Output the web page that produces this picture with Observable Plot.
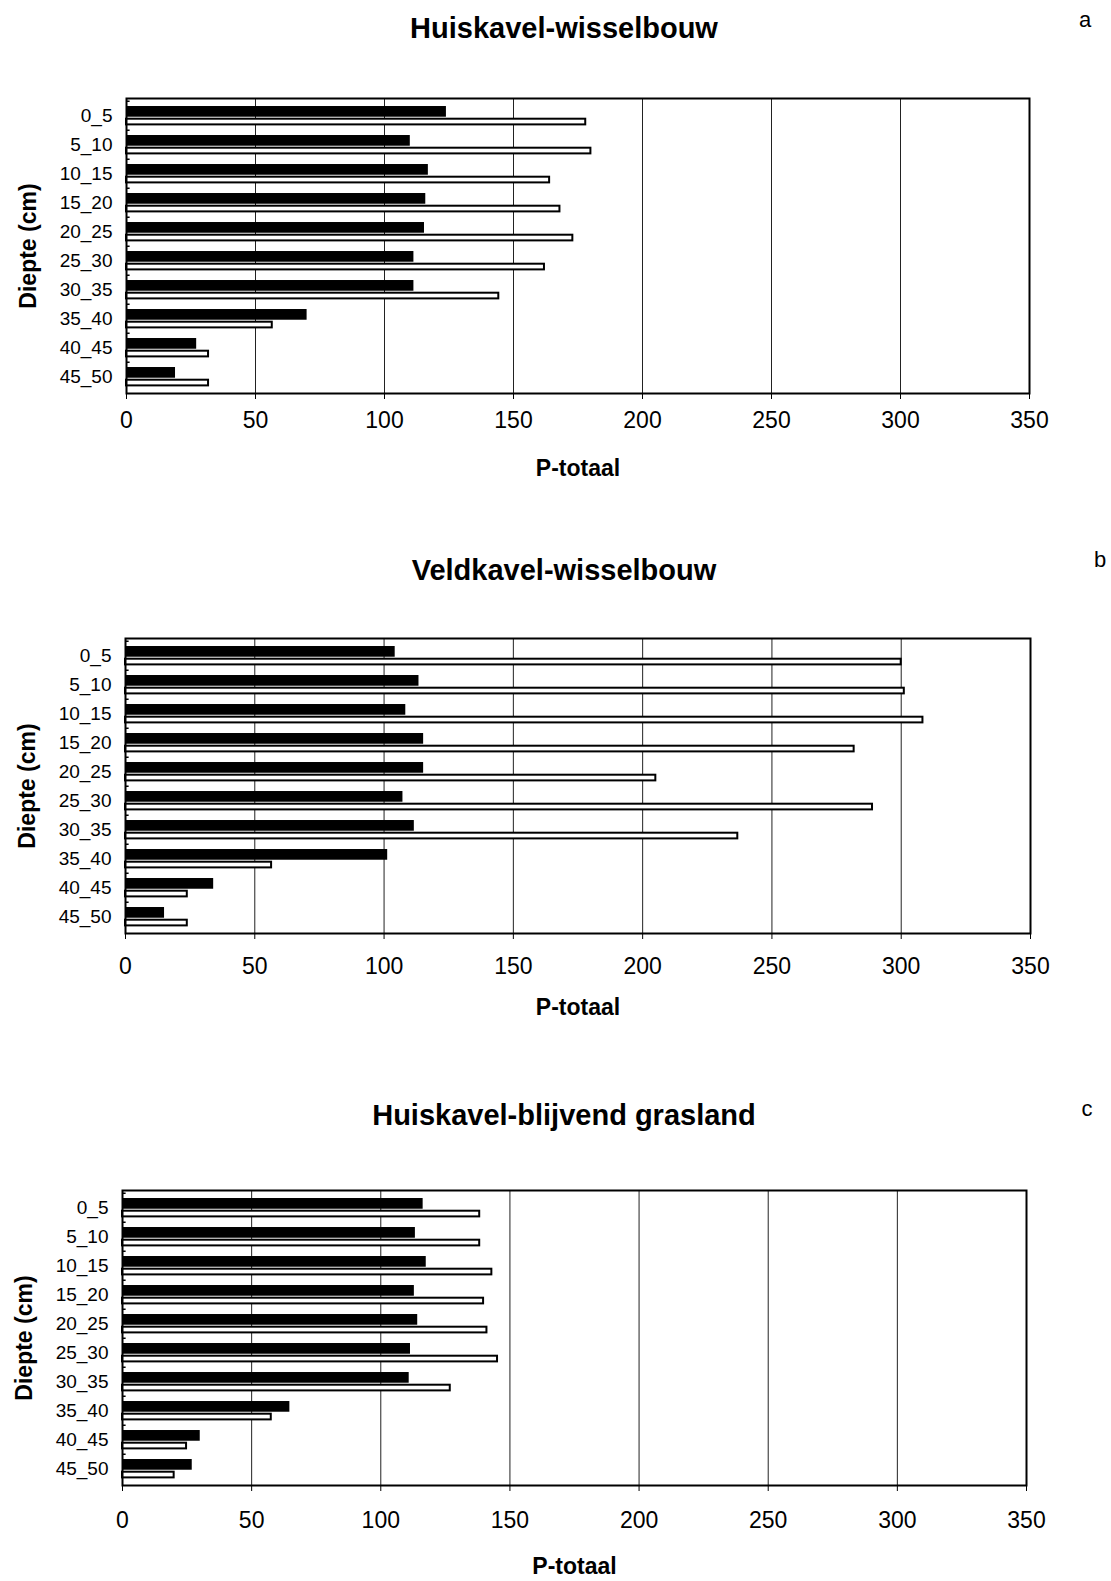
<!DOCTYPE html>
<html>
<head>
<meta charset="utf-8">
<script src="https://cdn.jsdelivr.net/npm/d3@7"></script>
<script src="https://cdn.jsdelivr.net/npm/@observablehq/plot@0.6"></script>
<style>
  body { margin: 0; background: #fff; }
  #page { position: relative; width: 1111px; height: 1581px; font-family: "Liberation Sans", Arial, sans-serif; color: #000; }
  .title { position: absolute; font-weight: bold; font-size: 29px; transform: translate(-50%, -50%); white-space: nowrap; }
  .letter { position: absolute; font-size: 22px; transform: translate(-50%, -50%); }
  .chart { position: absolute; left: 0; }
  .chart g[aria-label^="y-axis"] text { font-size: 19px; }
</style>
</head>
<body>
<div id="page"></div>
<script>
// Soil depth layers (cm)
const depths = ["0_5", "5_10", "10_15", "15_20", "20_25", "25_30", "30_35", "35_40", "40_45", "45_50"];
const xTicks = [0, 50, 100, 150, 200, 250, 300, 350];
const titles = ["Huiskavel-wisselbouw", "Veldkavel-wisselbouw", "Huiskavel-blijvend grasland"];
const letters = ["a", "b", "c"];
const xLabel = "P-totaal";
const yLabel = "Diepte (cm)";

// P-totaal per layer: filled series and open series
const huisWisselFilled = [124, 110, 117, 116, 115.5, 111.4, 111.4, 70, 27.2, 19];
const huisWisselOpen   = [178, 180, 164, 168, 173, 162, 144.3, 56.5, 31.8, 31.8];
const veldWisselFilled = [104.3, 113.5, 108.4, 115.3, 115.3, 107.3, 111.7, 101.4, 34.1, 15.1];
const veldWisselOpen   = [300, 301.2, 308.4, 281.8, 205.1, 288.9, 236.8, 56.5, 23.9, 23.9];
const huisGrasFilled   = [116.4, 113.4, 117.6, 113, 114.3, 111.5, 111, 64.8, 30.1, 27];
const huisGrasOpen     = [138.3, 138.3, 143, 139.8, 141.1, 145.2, 126.9, 57.6, 24.8, 20];

const panels = [
  {filled: huisWisselFilled, open: huisWisselOpen,
   layout: {top: 60, height: 430, marginTop: 38, marginBottom: 97, marginLeft: 126, marginRight: 82,
            tickPadding: 12, xLabelDy: 82, titleY: 28, letterX: 1085, letterY: 20}},
  {filled: veldWisselFilled, open: veldWisselOpen,
   layout: {top: 600, height: 430, marginTop: 38, marginBottom: 97, marginLeft: 125, marginRight: 81,
            tickPadding: 18, xLabelDy: 81, titleY: 570, letterX: 1100, letterY: 560}},
  {filled: huisGrasFilled, open: huisGrasOpen,
   layout: {top: 1150, height: 431, marginTop: 40, marginBottom: 96, marginLeft: 122, marginRight: 85,
            tickPadding: 20, xLabelDy: 88, titleY: 1115, letterX: 1087, letterY: 1109}}
];

function drawPanel(filled, open, L) {
  const bw = (L.height - L.marginTop - L.marginBottom) / depths.length;
  const rows = depths.map((d, i) => ({depth: d, filled: filled[i], open: open[i]}));
  return Plot.plot({
    width: 1111,
    height: L.height,
    marginTop: L.marginTop,
    marginBottom: L.marginBottom,
    marginLeft: L.marginLeft,
    marginRight: L.marginRight,
    style: {fontFamily: "Liberation Sans, Arial, sans-serif", fontSize: "23px", color: "black", background: "white", overflow: "visible"},
    x: {domain: [0, 350], ticks: xTicks, tickSize: 6, tickPadding: L.tickPadding, label: null},
    y: {domain: depths, padding: 0, tickSize: 0, tickPadding: 14, label: null},
    marks: [
      // vertical gridlines
      Plot.ruleX(xTicks, {stroke: "#222", strokeWidth: 1}),
      // small inward category tick marks on the depth axis
      Plot.ruleY(depths, {y: d => d, x1: 0, x2: 1.4, dy: -bw / 2, stroke: "black", strokeWidth: 1.5}),
      Plot.barX(rows, {y: "depth", x: "filled", fill: "black", insetTop: bw * 0.17, insetBottom: bw * 0.45}),
      Plot.barX(rows, {y: "depth", x: "open", fill: "white", stroke: "black", strokeWidth: 2, insetTop: bw * 0.60, insetBottom: bw * 0.19}),
      Plot.frame({stroke: "black", strokeWidth: 2}),
      Plot.text([xLabel], {frameAnchor: "bottom", dy: L.xLabelDy, text: d => d, fontWeight: "bold", fontSize: 23}),
      Plot.text([yLabel], {frameAnchor: "left", dx: -98, rotate: -90, textAnchor: "middle", text: d => d, fontWeight: "bold", fontSize: 23})
    ]
  });
}

const page = document.getElementById("page");
panels.forEach((p, i) => {
  const L = p.layout;
  const holder = document.createElement("div");
  holder.className = "chart";
  holder.style.top = L.top + "px";
  holder.appendChild(drawPanel(p.filled, p.open, L));
  page.appendChild(holder);

  const t = document.createElement("div");
  t.className = "title";
  t.style.left = "564px";
  t.style.top = L.titleY + "px";
  t.textContent = titles[i];
  page.appendChild(t);

  const l = document.createElement("div");
  l.className = "letter";
  l.style.left = L.letterX + "px";
  l.style.top = L.letterY + "px";
  l.textContent = letters[i];
  page.appendChild(l);
});
</script>
</body>
</html>
